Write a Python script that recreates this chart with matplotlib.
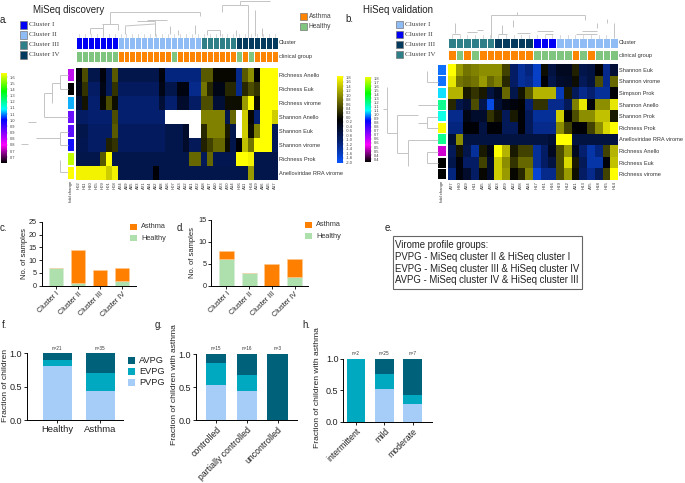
import numpy as np
import matplotlib
matplotlib.use("Agg")
import matplotlib.pyplot as plt
from matplotlib.colors import LinearSegmentedColormap, ListedColormap
from matplotlib.patches import Rectangle

plt.rcParams['font.family'] = ['Liberation Sans', 'DejaVu Sans']

W, H = 685, 483

# --- heatmap a ---
filas_a = ["Richness Anello", "Richness Euk", "Richness virome", "Shannon Anello", "Shannon Euk",
           "Shannon virome", "Richness Prok", "Anelloviridae RRA virome"]
cols_a = ["H02", "H11", "H10", "H05", "H09", "H01", "H08", "A24", "A09", "A05", "A03", "A21", "A04", "A02", "A08",
          "A16", "H07", "A13", "A12", "A01", "A22", "A18", "A07", "A10", "A23", "A20", "A14", "H06", "A11", "H04",
          "A19", "A06", "A15", "A17"]
n = np.nan
heat_a = [
    [-.1, .6, -.7, -.7, -.1, -.8, .7, -.7, -.7, -.7, -.7, -.7, -.7, -.7, -.1, -1.1, -1.1, -1.1, -1.1, -1.1, -1.1, .7, .7, .05, .05, .05, .05, -1.2, .7, 1.1, 0, 2, 2, 2],
    [-.2, .4, -.9, -.9, -.2, -.8, .4, -.85, -.85, -.85, -.85, -.85, -.85, -.85, -.2, -.7, -.7, -.15, -.15, -1.2, -1.2, .9, .3, -.2, -.2, .3, .3, -1.2, .3, .6, .4, 2, 2, 2],
    [-.5, .15, -1, -1, .05, .6, .1, -1, -1, -1, -1, -1, -1, -1, -.5, -1, -1, -.4, -.4, -.9, -.9, .6, .6, -.5, -.5, .1, .1, .1, 1.2, 2, .1, 2, 2, 2],
    [-.9, -.9, -1, -1, -1, -1, .6, -1, -1, -1, -1, -1, -1, -1, -1, n, n, n, n, n, n, 1, 1, 1, 1, -.7, .8, n, 1.6, .05, -1, 2, 2, 1.6],
    [-.7, -.7, -.9, -.9, -.9, -.9, .7, -.85, -.85, -.85, -.85, -.85, -.85, -.85, -.85, -.7, -.7, -.7, -.4, n, n, .3, 1, 1, 1, .2, -.7, n, 1.6, .1, 1, 2, 2, -.8],
    [-.75, -.75, -.9, -.9, -.9, .25, .4, -.85, -.85, -.85, -.85, -.85, -.85, -.85, -.85, -.7, -.7, -.7, -.4, -.8, -.8, .25, .5, .8, .8, .1, -.7, -.05, 1.5, .9, 2, 2, 2, -.8],
    [-.7, -.7, -.7, -.7, .7, 2, -.7, -.7, -.7, -.7, -.7, -.7, -.7, -.7, -.7, -.7, -.7, -.7, -.7, .8, .8, -.8, .8, -.75, -.75, -.75, -.75, 2, 2, 1.9, -.7, -.7, -.7, -.7],
    [1.9, 1.9, 1.9, 1.9, 1.9, 1.6, 1.9, -.7, -.7, -.7, -.7, -.7, -.7, -.05, -.7, -.7, -.7, -.7, -.7, -.7, -.7, -.7, -.7, -.7, -.7, -.7, -.7, -.7, -.7, 1.2, -.7, -.7, -.7, -.7],
]
cluster_a = [0] * 7 + [1] * 14 + [2] * 6 + [3] * 7
grupo_a = [1] * 7 + [0] * 9 + [1] + [0] * 10 + [1, 0, 1] + [0] * 4
tira_a = ["#c010f0", "#000000", "#10b0ff", "#6a10ff", "#5a10ff", "#1010ff", "#c0ff00", "#ffff00"]

# --- heatmap b ---
filas_b = ["Shannon Euk", "Shannon virome", "Simpson Prok", "Shannon Anello", "Shannon Prok", "Richness Prok",
           "Anelloviridae RRA virome", "Richness Anello", "Richness Euk", "Richness virome"]
cols_b = ["A27", "H20", "A39", "H11", "A35", "A26", "A33", "A29", "A32", "A28", "A34", "H17", "H21", "H16", "H19",
          "H12", "A31", "H13", "A25", "H18", "H15", "H14"]
heat_b = [
    [2, 1.2, .9, 1, 1.1, 1.1, 1.1, .5, -.9, -1.3, -1.1, -1.6, .1, -.6, -.3, -.3, .25, -.7, -.6, 0, -1.2, -.5],
    [1.8, .9, .8, .9, 1.2, .8, 1, .3, -.9, -1.3, -1.2, -1.6, -.05, -.7, -.4, -.35, .1, -.8, -.6, .6, -1.2, .8],
    [1.4, 1.4, .2, .4, .2, -.6, -.3, .8, -.7, .15, .7, 1.4, 1.4, 1.4, -1.5, .2, -.8, -1.2, -1, -1.3, -1.3, -.05],
    [.3, -.7, -.5, .6, -.7, -1.8, -.5, -.2, -.1, 0, -1, .4, .4, -1.2, -1.2, -.8, 1, 1.8, -.1, 1.1, 1.1, 1.8],
    [-1.2, -1.2, -.2, -.4, -.4, .4, .15, -.8, .2, -.05, -.8, -1.3, -1.3, -1.3, 1.6, -.02, .6, 1.1, 1.1, 1.5, 1.5, .2],
    [-1.1, -1.1, -.05, -.05, -.6, -.05, -.05, -.8, -.8, -.05, -.8, -1.2, -1.2, -1.2, 1.1, .5, -.05, -.05, .5, 1.1, 1.7, 2],
    [-.5, 1.1, -.6, -.6, -.6, -.6, -.6, -.6, -.6, -.6, -.6, -.6, -.6, -.5, 2, 2, -.6, -.6, -.6, -.6, -.6, -.6],
    [-.8, .15, -.7, -1.3, .2, -.2, 2, 1.4, .2, .5, .5, -1.3, -.9, -.3, .6, 1.2, -.3, -1, -1.4, -1.1, .5, 1.4],
    [-.7, -.1, -.9, -.9, .5, -.4, 1.6, 1.1, .4, .8, .8, -1.3, -.9, -.6, .6, 1.7, .2, -.8, -1.4, -1.4, -.1, 1.5],
    [-1.1, -.1, -.4, -.9, .05, -.4, 1.6, 1.2, .05, .3, 1, -1.7, -1.2, -1.2, .6, 1.2, .1, -.9, -1.2, -.8, .5, 2],
]
cluster_b = [3] * 6 + [2] * 5 + [1] * 3 + [0] * 8
grupo_b = [0, 1, 0, 1] + [0] * 7 + [1] * 5 + [0, 1, 0, 1, 1, 1]
tira_b = ["#1070ff", "#1070ff", "#10e0ff", "#10ff90", "#10ffe8", "#ffff00", "#10ff90", "#d000d0", "#000000", "#000000"]

# --- barras ---
etiquetas_cluster = ["Cluster I", "Cluster II", "Cluster III", "Cluster IV"]
sanos_c = [7, 1, 0, 2]
asma_c = [0, 13, 6, 5]
sanos_d = [6, 3, 0, 2]
asma_d = [2, 0, 5, 4]

cat_f = ["Healthy", "Asthma"]
pvpg_f = [.81, .43]
evpg_f = [.09, .28]
avpg_f = [.10, .29]
n_f = ["n=21", "n=35"]

cat_g = ["controlled", "partially controlled", "uncontrolled"]
pvpg_g = [.53, .44, 0]
evpg_g = [.33, .25, 0]
avpg_g = [.14, .31, 1]
n_g = ["n=15", "n=16", "n=3"]

cat_h = ["intermittent", "mild", "moderate"]
pvpg_h = [0, .52, .29]
evpg_h = [1, .24, .14]
avpg_h = [0, .24, .57]
n_h = ["n=2", "n=25", "n=7"]

lineas_e = ["Virome profile groups:", "PVPG - MiSeq cluster II & HiSeq cluster I",
            "EVPG - MiSeq cluster III & HiSeq cluster IV", "AVPG - MiSeq cluster IV & HiSeq cluster III"]

ticks_cb_arcoiris_a = ["1.6", "1.5", "1.4", "1.3", "1.2", "1.1", "1.1", "1.0", "0.9", "0.9", "0.8", "0.8", "0.7", "0.7"]
ticks_cb_calor = ["1.8", "1.6", "1.4", "1.2", "1.0", "0.8", "0.6", "0.4", "0.2", "0.0", "-0.2", "-0.4", "-0.6", "-0.8",
                  "-1.0", "-1.2", "-1.4", "-1.6", "-1.8", "-2.0"]
ticks_cb_arcoiris_b = ["1.8", "1.7", "1.6", "1.5", "1.4", "1.3", "1.2", "1.1", "1.1", "1.0", "0.9", "0.8", "0.8", "0.7",
                       "0.7", "0.6", "0.6", "0.5", "0.5", "0.4", "0.4"]

# dendrogramas, tramos en pixeles de la imagen (x0, y0, x1, y1)
dendro = [
    # arriba a
    (222, 5, 248, 5), (240, 1, 270, 1), (240, 1, 240, 5), (248, 5, 248, 38), (222, 5, 222, 12), (110, 12, 200, 12),
    (110, 12, 110, 24), (200, 12, 200, 16), (102, 24, 118, 24), (103, 24, 103, 36), (118, 24, 118, 30), (90, 28, 103, 28),
    (90, 28, 90, 34), (125, 26, 155, 24), (137, 21, 155, 21), (155, 21, 155, 36), (147, 20, 167, 20), (125, 26, 125, 34),
    (207, 30, 220, 30), (220, 30, 220, 36), (207, 30, 207, 35), (178, 30, 178, 35), (236, 30, 236, 36), (255, 10, 255, 36),
    (262, 28, 262, 36), (195, 25, 195, 34), (170, 26, 170, 34),
    # izquierda a
    (60, 75, 68, 75), (60, 75, 60, 89), (60, 89, 68, 89), (52, 83, 60, 83), (52, 83, 52, 103), (44, 93, 52, 93),
    (44, 93, 44, 117), (44, 117, 68, 117), (28, 122, 36, 122), (60, 132, 60, 145), (60, 145, 68, 145), (60, 132, 68, 132),
    (36, 138, 60, 138), (21, 144, 28, 144), (60, 160, 60, 172), (60, 172, 68, 172),
    # arriba b
    (491, 15, 585, 15), (491, 15, 491, 38), (585, 15, 585, 20), (517, 12, 517, 15), (455, 23, 455, 33), (452, 34, 460, 34),
    (467, 32, 477, 32), (477, 30, 483, 30), (498, 34, 507, 34), (502, 25, 502, 34), (513, 20, 513, 27), (517, 33, 530, 33),
    (537, 31, 553, 31), (545, 34, 553, 34), (576, 34, 597, 34), (582, 31, 597, 31), (597, 23, 597, 28), (607, 19, 607, 23),
    (614, 23, 614, 37),
    # izquierda b
    (427, 71, 427, 82), (427, 82, 438, 82), (418, 105, 438, 105), (387, 87, 387, 133), (397, 115, 397, 153),
    (397, 115, 418, 115), (397, 153, 408, 153), (408, 140, 408, 166), (408, 140, 438, 140), (427, 117, 427, 128),
    (427, 117, 438, 117), (427, 128, 438, 128), (418, 123, 427, 123), (427, 152, 427, 163), (427, 152, 438, 152),
    (427, 163, 438, 163), (387, 133, 397, 133), (383, 109, 387, 109),
]

fig = plt.figure(figsize=(W / 100, H / 100), dpi=100)


def ejes(x0, y0, x1, y1):  # ejes a partir de pixeles
    return fig.add_axes([x0 / W, 1 - y1 / H, (x1 - x0) / W, (y1 - y0) / H])


# capa encima de todo para rotulos, leyendas y dendrogramas
capa = ejes(0, 0, W, H)
capa.set_xlim(0, W)
capa.set_ylim(H, 0)
capa.axis("off")
capa.set_zorder(10)


def rotulo(x, y, s, **kw):
    kw.setdefault("va", "center")
    kw.setdefault("fontsize", 6.5)
    kw.setdefault("color", "#222222")
    capa.text(x, y, s, **kw)


calor = LinearSegmentedColormap.from_list("calor", [(0, "#0a55ff"), (.25, "#04206e"), (.5, "#000000"), (1, "#ffff00")])
calor.set_bad("white")
arcoiris = LinearSegmentedColormap.from_list("arcoiris", [(0, "#000000"), (.2, "#ff00ff"), (.48, "#0000ff"),
                                                          (.6, "#00ffff"), (.8, "#00ff00"), (1, "#ffff00")])
c_cluster = ListedColormap(["#0000f5", "#8fbcf5", "#2e7f87", "#053a5f"])
c_cluster_b = ListedColormap(["#8fbcf5", "#0000f5", "#053a5f", "#2e7f87"])
c_grupo = ListedColormap(["#ff8500", "#7fc47f"])


def heatmap(caja, datos, filas, cols, y_cl, y_gr, cluster, grupo, cmap_cl, x_tira, tira):
    x0, y0, x1, y1 = caja
    ax = ejes(x0, y0, x1, y1)
    ax.imshow(np.ma.masked_invalid(np.array(datos)), cmap=calor, vmin=-2, vmax=2, aspect="auto", interpolation="nearest")
    ax.set_yticks(range(len(filas)), filas, fontsize=4.1, color="#333333")
    ax.yaxis.tick_right()
    ax.set_xticks(range(len(cols)), cols, fontsize=3.1, rotation=90, color="#333333")
    ax.tick_params(length=0, pad=1)
    for s in ax.spines.values():
        s.set_visible(False)
    for (ya, yb), vals, cm, nom in [(y_cl, cluster, cmap_cl, "Cluster"), (y_gr, grupo, c_grupo, "clinical group")]:
        tira_ax = ejes(x0, ya, x1, yb)
        tira_ax.pcolormesh(np.array([vals]), cmap=cm, vmin=0, vmax=cm.N - 1, edgecolors="white", linewidth=.4)
        tira_ax.axis("off")
        rotulo(x1 + 1, (ya + yb) / 2, nom, fontsize=4.1, color="#333333")
    # tira de colores por fila
    alto = (y1 - y0) / len(filas)
    for i, c in enumerate(tira):
        capa.add_patch(Rectangle((x_tira[0], y0 + i * alto + .8), x_tira[1] - x_tira[0], alto - 1.6, color=c, lw=0))
    rotulo((x_tira[0] + x_tira[1]) / 2, y1 + 1, "fold change", fontsize=3.1, rotation=90, ha="center", va="top", color="#333333")
    # patitas del dendrograma
    ancho = (x1 - x0) / len(cols)
    for j in range(len(cols)):
        xc = x0 + (j + .5) * ancho
        capa.plot([xc, xc], [y_cl[0] - 3, y_cl[0] - .5], color="#c8c8c8", lw=.5)


def barra_color(caja, cmap, ticks, y_ini, y_fin):
    x0, y0, x1, y1 = caja
    ax = ejes(x0, y0, x1, y1)
    ax.imshow(np.linspace(1, 0, 256).reshape(-1, 1), cmap=cmap, aspect="auto")
    ax.set_xticks([])
    pos = [(y - y0) / (y1 - y0) * 256 for y in np.linspace(y_ini, y_fin, len(ticks))]
    ax.set_yticks(pos, ticks, fontsize=2.9, color="#444444")
    ax.yaxis.tick_right()
    ax.tick_params(length=1, width=.3, pad=1, color="#888888")
    for s in ax.spines.values():
        s.set_visible(False)


heatmap((76, 68, 278, 180), heat_a, filas_a, cols_a, (37, 49), (51, 62), cluster_a, grupo_a, c_cluster, (68, 74), tira_a)
heatmap((448, 64, 618, 180), heat_b, filas_b, cols_b, (38, 48), (50, 60), cluster_b, grupo_b, c_cluster_b, (438, 446), tira_b)

barra_color((1, 73, 7, 163), arcoiris, ticks_cb_arcoiris_a, 77, 157)
barra_color((337, 76, 343, 163), calor, ticks_cb_calor, 77, 162)
barra_color((365, 77, 371, 162), arcoiris, ticks_cb_arcoiris_b, 78, 159)

for x0, y0, x1, y1 in dendro:
    capa.plot([x0, x1], [y0, y1], color="#c4c4c4", lw=.7, solid_capstyle="butt")


def leyenda_cuadros(x, ys, colores, textos, lado, dx, **kw):
    for y, c, t in zip(ys, colores, textos):
        capa.add_patch(Rectangle((x, y), lado, lado, facecolor=c, edgecolor="#777777", lw=.5))
        rotulo(x + lado + dx, y + lado / 2, t, **kw)


serif = dict(family="Liberation Serif", fontsize=5.2, color="#444444")
sans = dict(fontsize=4.8, color="#444444")
leyenda_cuadros(20, [21, 31, 41, 51], list(c_cluster.colors), etiquetas_cluster, 7.5, 2, **serif)
leyenda_cuadros(396, [21, 31, 41, 51], list(c_cluster_b.colors), etiquetas_cluster, 7, 2, **serif)
leyenda_cuadros(300, [13, 23], ["#ff8500", "#7fc47f"], ["Asthma", "Healthy"], 7, 2, **sans)

rotulo(0, 20, "a.", fontsize=7)
rotulo(33, 10, "MiSeq discovery", fontsize=7)
rotulo(345, 19, "b.", fontsize=7)
rotulo(363, 10, "HiSeq validation", fontsize=7)
rotulo(0, 228, "c.", fontsize=7)
rotulo(177, 228, "d.", fontsize=7)
rotulo(385, 228, "e.", fontsize=7)
rotulo(2, 325, "f.", fontsize=7)
rotulo(155, 325, "g.", fontsize=7)
rotulo(302, 325, "h.", fontsize=7)


def limpiar(ax, ymax, yticks, fs):
    ax.spines["top"].set_visible(False)
    ax.spines["right"].set_visible(False)
    ax.spines["left"].set_linewidth(.7)
    ax.spines["bottom"].set_linewidth(.7)
    ax.set_ylim(0, ymax)
    ax.set_yticks(yticks)
    ax.tick_params(length=2.2, width=.7, pad=1.2, labelsize=fs, colors="#222222")


def barras_conteo(caja, xlim, sanos, asma, ymax, yticks, x_ley, x_yl):
    ax = ejes(*caja)
    x = np.arange(len(sanos))
    ax.bar(x, sanos, .66, color="#aee0ae", edgecolor="#d5eed5", lw=.4)
    ax.bar(x, asma, .66, bottom=sanos, color="#ff8000", edgecolor="#ffc890", lw=.4)
    ax.set_xlim(*xlim)
    limpiar(ax, ymax, yticks, 5.2)
    ax.set_xticks(x, etiquetas_cluster, rotation=45, ha="right", rotation_mode="anchor", fontsize=5.3)
    rotulo(x_yl, (caja[1] + caja[3]) / 2, "No. of samples", rotation=90, ha="center", fontsize=5.5)
    for y, c, t in [(caja[1] + 5, "#ff8000", "Asthma"), (caja[1] + 16, "#aee0ae", "Healthy")]:
        capa.add_patch(Rectangle((x_ley, y - 2.8), 7, 5.6, color=c, lw=0))
        rotulo(x_ley + 11, y, t, fontsize=5.3, color="#333333")


barras_conteo((41.7, 222, 136, 285.7), (-.65, 3.64), sanos_c, asma_c, 25, [0, 5, 10, 15, 20, 25], 130, 25)
barras_conteo((211, 220, 308, 285.7), (-.68, 3.59), sanos_d, asma_d, 15, [0, 5, 10, 15], 305, 193)

capa.add_patch(Rectangle((392.7, 236), 189.3, 53, facecolor="white", edgecolor="#666666", lw=.8))
for y, t in zip([245, 257, 268.5, 280], lineas_e):
    rotulo(395.5, y, t, fontsize=6.9, color="#222222")


def barras_fraccion(caja, xlim, cats, p, e, a, etiq_n, x_yl, y_yl, ylab, rot):
    ax = ejes(*caja)
    x = np.arange(len(cats))
    p, e, a = np.array(p), np.array(e), np.array(a)
    ax.bar(x, p, .667, color="#a5cdf8", lw=0)
    ax.bar(x, e, .667, bottom=p, color="#00a8c0", lw=0)
    ax.bar(x, a, .667, bottom=p + e, color="#00617a", lw=0)
    ax.set_xlim(*xlim)
    limpiar(ax, 1, [0, .5, 1], 6.5)
    ax.set_yticks([0, .5, 1], ["0.0", "0.5", "1.0"])
    if rot:
        ax.set_xticks(x, cats, rotation=45, ha="right", rotation_mode="anchor", fontsize=6.3)
    else:
        ax.set_xticks(x, cats, fontsize=6.8)
    for xi, t in zip(x, etiq_n):
        ax.annotate(t, (xi, 1), xytext=(0, 2), textcoords="offset points", ha="center", va="bottom", fontsize=3.3, color="#333333", annotation_clip=False)
    rotulo(x_yl, y_yl, ylab, rotation=90, ha="center", fontsize=6.1)


barras_fraccion((27, 353.3, 123, 420.3), (-.705, 1.53), cat_f, pvpg_f, evpg_f, avpg_f, n_f, 6, 385, "Fraction of children", False)
barras_fraccion((196, 354, 297, 420.3), (-.663, 2.637), cat_g, pvpg_g, evpg_g, avpg_g, n_g, 175, 385, "Fraction of children with asthma", True)
barras_fraccion((343.3, 359, 431.7, 421.7), (-.45, 2.67), cat_h, pvpg_h, evpg_h, avpg_h, n_h, 318, 388, "Fraction of children with asthma", True)

for y, c, t in [(356.7, "#00617a", "AVPG"), (368, "#00a8c0", "EVPG"), (379, "#a5cdf8", "PVPG")]:
    capa.add_patch(Rectangle((128, y), 7.3, 7, color=c, lw=0))
    rotulo(139, y + 3.5, t, fontsize=6.6)

fig.savefig("out.png", dpi=100)
